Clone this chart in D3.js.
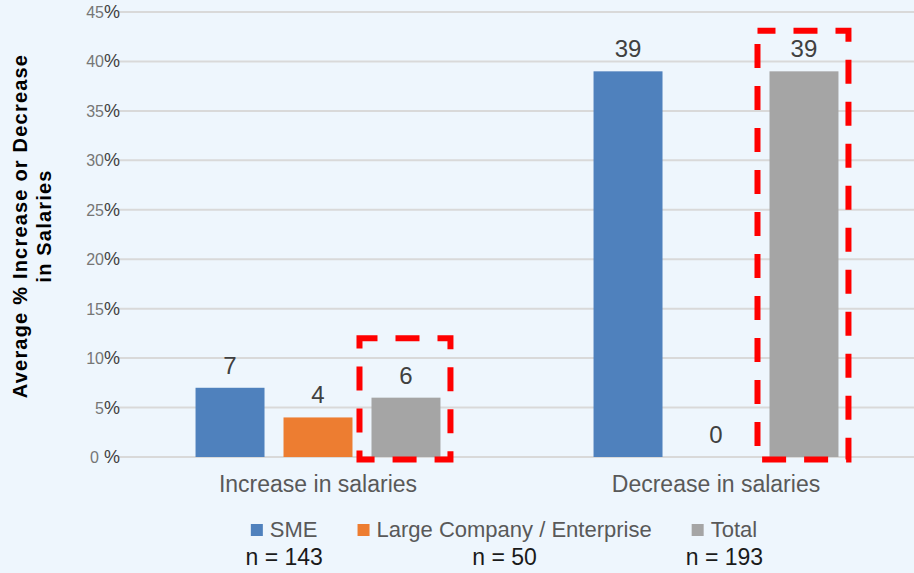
<!DOCTYPE html>
<html>
<head>
<meta charset="utf-8">
<script src="https://cdn.jsdelivr.net/npm/d3@7"></script>
<style>
  body { margin: 0; background: #EEF6FD; }
  svg { display: block; font-family: "Liberation Sans", Arial, sans-serif; }
</style>
</head>
<body>
<div id="chart"></div>
<script>
// chart data
const categories = ['Increase in salaries', 'Decrease in salaries'];
const series = ['SME', 'Large Company / Enterprise', 'Total'];
const sampleSizes = ['n = 143', 'n = 50', 'n = 193'];
const smeValues = [7, 39];
const largeValues = [4, 0];
const totalValues = [6, 39];
const yTicks = [0, 5, 10, 15, 20, 25, 30, 35, 40, 45];
// highlight boxes around the Total bars (top / bottom in % units)
const highlightTop = [12, 43.1];
const highlightBottom = [-0.25, -0.25];

const colors = { 'SME': '#4F81BD', 'Large Company / Enterprise': '#ED7D31', 'Total': '#A5A5A5' };

const width = 914, height = 573;
const margin = { top: 12, right: -1, bottom: 116, left: 119 };

const svg = d3.select('#chart')
    .append('svg')
    .attr('width', width)
    .attr('height', height);

svg.append('rect')
    .attr('width', width)
    .attr('height', height)
    .attr('fill', '#EEF6FD');

const x0 = d3.scaleBand()
    .domain(categories)
    .range([margin.left, width - margin.right])
    .padding(0);

const x1 = d3.scaleBand()
    .domain(series)
    .range([0, x0.bandwidth()])
    .paddingInner(0.216)
    .paddingOuter(0.87);

const y = d3.scaleLinear()
    .domain([0, 45])
    .range([height - margin.bottom, margin.top]);

// gridlines
svg.append('g')
    .selectAll('line')
    .data(yTicks)
    .enter()
    .append('line')
    .attr('x1', margin.left)
    .attr('x2', width)
    .attr('y1', d => y(d))
    .attr('y2', d => y(d))
    .attr('stroke', '#D9D9D9')
    .attr('stroke-width', 2);

// y tick labels: grey number, darker percent sign
const tickText = svg.append('g')
    .selectAll('text')
    .data(yTicks)
    .enter()
    .append('text')
    .attr('x', margin.left + 1)
    .attr('y', d => y(d) + 6)
    .attr('text-anchor', 'end');
tickText.append('tspan')
    .attr('font-size', 16)
    .attr('fill', '#767676')
    .text(d => d);
tickText.append('tspan')
    .attr('font-size', 18)
    .attr('fill', '#404040')
    .text(d => d === 0 ? '\u00a0%' : '%');

// y axis title
const title = svg.append('text')
    .attr('transform', `translate(27, 226) rotate(-90)`)
    .attr('text-anchor', 'middle')
    .attr('font-size', 20)
    .attr('font-weight', 'bold')
    .attr('letter-spacing', 1.2)
    .attr('fill', '#000');
title.append('tspan').attr('x', 0).attr('dy', 0).text('Average % Increase or Decrease');
title.append('tspan').attr('x', 0).attr('dy', 24).text('in Salaries');

// bars
const rows = categories.map((c, i) => ({
    category: c,
    values: [
        { key: 'SME', value: smeValues[i] },
        { key: 'Large Company / Enterprise', value: largeValues[i] },
        { key: 'Total', value: totalValues[i] }
    ]
}));

const groups = svg.append('g')
    .selectAll('g.group')
    .data(rows)
    .enter()
    .append('g')
    .attr('class', 'group')
    .attr('transform', d => `translate(${x0(d.category)}, 0)`);

groups.selectAll('rect')
    .data(d => d.values)
    .enter()
    .append('rect')
    .attr('x', d => x1(d.key))
    .attr('y', d => y(d.value))
    .attr('width', x1.bandwidth())
    .attr('height', d => y(0) - y(d.value))
    .attr('fill', d => colors[d.key]);

groups.selectAll('text.value')
    .data(d => d.values)
    .enter()
    .append('text')
    .attr('class', 'value')
    .attr('x', d => x1(d.key) + x1.bandwidth() / 2)
    .attr('y', d => y(d.value) - 14)
    .attr('text-anchor', 'middle')
    .attr('font-size', 24)
    .attr('fill', '#404040')
    .text(d => d.value);

// red dashed highlight boxes around Total bars
categories.forEach((c, i) => {
    const bx = x0(c) + x1('Total');
    svg.append('rect')
        .attr('x', bx - 12)
        .attr('y', y(highlightTop[i]))
        .attr('width', x1.bandwidth() + 22)
        .attr('height', y(highlightBottom[i]) - y(highlightTop[i]))
        .attr('fill', 'none')
        .attr('stroke', '#FF0000')
        .attr('stroke-width', 6)
        .attr('stroke-dasharray', '24 18')
        .attr('stroke-dashoffset', 6);
});

// category labels
svg.append('g')
    .selectAll('text')
    .data(categories)
    .enter()
    .append('text')
    .attr('x', d => x0(d) + x0.bandwidth() / 2)
    .attr('y', 492)
    .attr('text-anchor', 'middle')
    .attr('font-size', 23)
    .attr('fill', '#595959')
    .text(d => d);

// legend
const legend = svg.append('g');
const entries = legend.selectAll('g')
    .data(series)
    .enter()
    .append('g');
entries.append('rect')
    .attr('y', 524)
    .attr('width', 12)
    .attr('height', 12)
    .attr('fill', d => colors[d]);
entries.append('text')
    .attr('x', 19)
    .attr('y', 537)
    .attr('font-size', 22)
    .attr('fill', '#595959')
    .text(d => d);

const gap = 40;
const widths = [];
entries.each(function () {
    widths.push(19 + d3.select(this).select('text').node().getComputedTextLength());
});
const total = d3.sum(widths) + gap * (widths.length - 1);
let cx = 504 - total / 2;
const starts = [];
entries.each(function (d, i) {
    starts.push(cx);
    d3.select(this).attr('transform', `translate(${cx}, 0)`);
    cx += widths[i] + gap;
});

legend.selectAll('text.n')
    .data(sampleSizes)
    .enter()
    .append('text')
    .attr('class', 'n')
    .attr('x', (d, i) => starts[i] + widths[i] / 2)
    .attr('y', 565)
    .attr('text-anchor', 'middle')
    .attr('font-size', 23)
    .attr('fill', '#1A1A1A')
    .text(d => d);
</script>
</body>
</html>
